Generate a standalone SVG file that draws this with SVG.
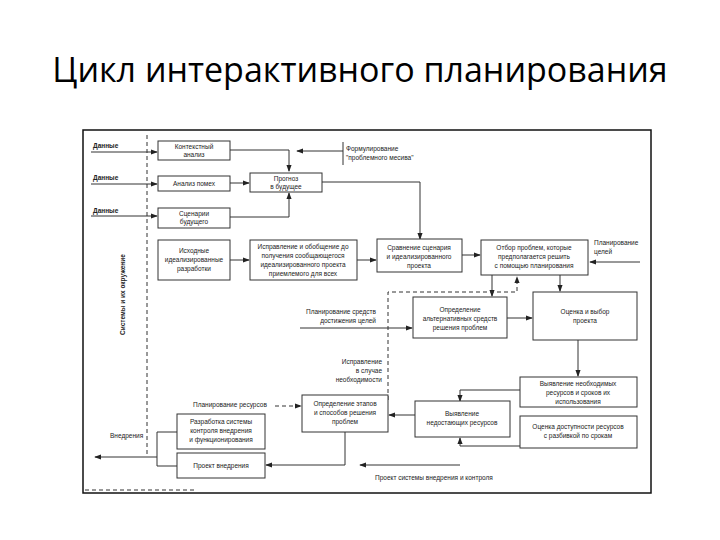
<svg xmlns="http://www.w3.org/2000/svg" width="720" height="540" viewBox="0 0 720 540">
<defs>
<marker id="a" viewBox="0 0 8 8" refX="7" refY="4" markerWidth="7" markerHeight="7" orient="auto"><path d="M0,1 L8,4 L0,7 Z" fill="#222"/></marker>
<style>
.b{fill:#fff;stroke:#333;stroke-width:1}
.t{font-family:"Liberation Sans",Arial,sans-serif;font-size:6.5px;fill:#222;text-anchor:middle}
.l{font-family:"Liberation Sans",Arial,sans-serif;font-size:6.5px;fill:#222}
.c{fill:none;stroke:#333;stroke-width:1}
.c path{marker-end:url(#a)}
.d{stroke-dasharray:4 3}
</style>
</defs>
<rect width="720" height="540" fill="#fff"/>
<text x="360" y="82" font-family="'Open Sans','Liberation Sans',sans-serif" font-size="34" text-anchor="middle" fill="#000">Цикл интерактивного планирования</text>
<rect x="83" y="130" width="568" height="363" fill="none" stroke="#111" stroke-width="1.5"/>
<g id="labels">
<text class="l" x="93" y="148" font-weight="bold">Данные</text>
<text class="l" x="93" y="180" font-weight="bold">Данные</text>
<text class="l" x="93" y="213" font-weight="bold">Данные</text>
<text class="l" x="346" y="151">Формулирование</text>
<text class="l" x="346" y="160">"проблемного месива"</text>
<text class="l" x="594" y="245">Планирование</text>
<text class="l" x="594" y="254">целей</text>
<text class="l" x="376" y="314" text-anchor="end">Планирование средств</text>
<text class="l" x="376" y="323" text-anchor="end">достижения целей</text>
<text class="l" x="382" y="364" text-anchor="end">Исправление</text>
<text class="l" x="382" y="373" text-anchor="end">в случае</text>
<text class="l" x="382" y="382" text-anchor="end">необходимости</text>
<text class="l" x="193" y="407">Планирование ресурсов</text>
<text class="l" x="110" y="438">Внедрения</text>
<text class="l" x="375" y="480">Проект системы внедрения и контроля</text>
<text class="l" transform="translate(125,335) rotate(-90)" font-weight="bold">Системы и их окружение</text>
</g>
<g id="connectors" class="c">
<line x1="147" y1="135" x2="147" y2="455" class="d"/>
<path d="M91,152 H157"/>
<path d="M91,184 H157"/>
<path d="M91,216 H157"/>
<path d="M230,150 H289 V171"/>
<path d="M230,183 H249"/>
<path d="M230,217 H289 V193"/>
<line x1="343" y1="142" x2="343" y2="165"/>
<path d="M343,151 H297"/>
<path d="M322,182 H420 V239"/>
<path d="M230,260 H249"/>
<path d="M357,260 H376"/>
<path d="M462,255 H480"/>
<path d="M640,262 H590"/>
<path d="M492,275 V296"/>
<path d="M560,275 V291"/>
<path d="M388,400 V292 H517 V277" class="d"/>
<path d="M300,328 H412"/>
<path d="M507,318 H532"/>
<path d="M578,340 V376"/>
<path d="M520,390 H460 V401"/>
<path d="M520,446 H460 V438"/>
<path d="M415,415 H389"/>
<path d="M275,406 H301" class="d"/>
<path d="M345,432 V465 H266"/>
<path d="M460,465 H360"/>
<line x1="177" y1="432" x2="157" y2="432"/>
<line x1="157" y1="432" x2="157" y2="466"/>
<line x1="157" y1="466" x2="177" y2="466"/>
<path d="M157,457 H95"/>
<line x1="85" y1="490" x2="195" y2="490" class="d"/>
</g>
<g id="n1"><rect class="b" x="158" y="141" width="72" height="19"/><text class="t" x="194" y="149">Контекстный</text><text class="t" x="194" y="157">анализ</text></g>
<g id="n2"><rect class="b" x="158" y="176" width="72" height="15"/><text class="t" x="194" y="186">Анализ помех</text></g>
<g id="n3"><rect class="b" x="158" y="208" width="72" height="20"/><text class="t" x="194" y="216">Сценарии</text><text class="t" x="194" y="224">будущего</text></g>
<g id="n4"><rect class="b" x="158" y="240" width="72" height="40"/><text class="t" x="194" y="253">Исходные</text><text class="t" x="194" y="262">идеализированные</text><text class="t" x="194" y="271">разработки</text></g>
<g id="n5"><rect class="b" x="250" y="173" width="72" height="19"/><text class="t" x="286" y="181">Прогноз</text><text class="t" x="286" y="189">в будущее</text></g>
<g id="n6"><rect class="b" x="250" y="240" width="107" height="40"/><text class="t" x="303" y="249">Исправление и обобщение до</text><text class="t" x="303" y="258">получения сообщающегося</text><text class="t" x="303" y="267">идеализированного проекта</text><text class="t" x="303" y="276">приемлемого для всех</text></g>
<g id="n7"><rect class="b" x="377" y="239" width="85" height="33"/><text class="t" x="419" y="250">Сравнение сценария</text><text class="t" x="419" y="259">и идеализированного</text><text class="t" x="419" y="268">проекта</text></g>
<g id="n8"><rect class="b" x="481" y="240" width="107" height="35"/><text class="t" x="534" y="250">Отбор проблем, которые</text><text class="t" x="534" y="259">предполагается решить</text><text class="t" x="534" y="268">с помощью планирования</text></g>
<g id="n9"><rect class="b" x="413" y="297" width="94" height="41"/><text class="t" x="460" y="312">Определение</text><text class="t" x="460" y="321">альтернативных средств</text><text class="t" x="460" y="330">решения проблем</text></g>
<g id="n10"><rect class="b" x="533" y="292" width="104" height="48"/><text class="t" x="585" y="314">Оценка и выбор</text><text class="t" x="585" y="323">проекта</text></g>
<g id="n11"><rect class="b" x="520" y="377" width="117" height="30"/><text class="t" x="578" y="386">Выявление необходимых</text><text class="t" x="578" y="395">ресурсов и сроков их</text><text class="t" x="578" y="404">использования</text></g>
<g id="n12"><rect class="b" x="520" y="416" width="117" height="32"/><text class="t" x="578" y="429">Оценка доступности ресурсов</text><text class="t" x="578" y="438">с разбивкой по срокам</text></g>
<g id="n13"><rect class="b" x="415" y="401" width="95" height="36"/><text class="t" x="462" y="416">Выявление</text><text class="t" x="462" y="425">недостающих ресурсов</text></g>
<g id="n14"><rect class="b" x="302" y="395" width="86" height="37"/><text class="t" x="345" y="406">Определение этапов</text><text class="t" x="345" y="415">и способов решения</text><text class="t" x="345" y="424">проблем</text></g>
<g id="n15"><rect class="b" x="177" y="414" width="88" height="35"/><text class="t" x="221" y="424">Разработка системы</text><text class="t" x="221" y="433">контроля внедрения</text><text class="t" x="221" y="442">и функционирования</text></g>
<g id="n16"><rect class="b" x="177" y="453" width="88" height="25"/><text class="t" x="221" y="468">Проект внедрения</text></g>
</svg>
